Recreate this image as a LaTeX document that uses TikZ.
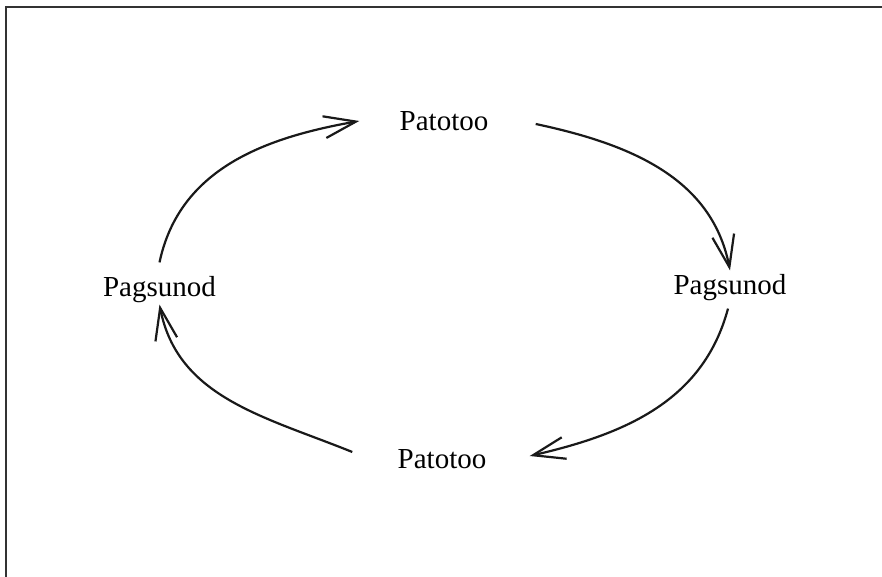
\documentclass[tikz,border=0pt]{standalone}
\usepackage{fontspec}
\setmainfont{Liberation Serif}
\usetikzlibrary{arrows.meta}

\begin{document}
\begin{tikzpicture}[x=0.5pt,y=0.5pt,
    lbl/.style={inner sep=0pt,font=\fontsize{14.5}{17}\selectfont},
    cyc/.style={line width=1.1pt,black!90,-{Straight Barb[length=16pt,width=11pt]}}]
                \useasboundingbox (0,0) rectangle (882,577);
                \draw[line width=0.8pt,black!80] (5.7,0)--(5.7,569.7)--(882,569.7);
                \node[lbl] (T) at (444,456) {Patotoo};
                \node[lbl] (R) at (730,289) {Pagsunod};
                \node[lbl] (B) at (442,118) {Patotoo};
                \node[lbl] (L) at (159.5,287) {Pagsunod};
                \draw[cyc] ([yshift=7pt]L.north) to[out=78,in=190] ([xshift=-20pt]T.west);
                \draw[cyc] ([xshift=23.5pt,yshift=-1.5pt]T.east) to[out=-12,in=101] ([yshift=2pt]R.north);
                \draw[cyc] ([xshift=-1pt,yshift=-3.5pt]R.south) to[out=255,in=13] ([xshift=21.5pt,yshift=1.5pt]B.east);
                \draw[cyc] ([xshift=-22.5pt,yshift=3.5pt]B.west) to[out=158,in=281] ([yshift=-0.5pt]L.south);
            \end{tikzpicture}
\end{document}
